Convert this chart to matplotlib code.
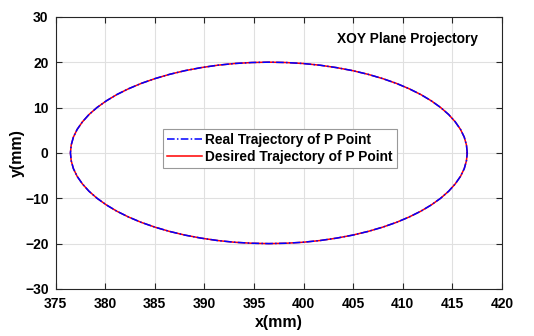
import matplotlib
matplotlib.use("Agg")
import matplotlib.pyplot as plt

x_desired = [416.5, 416.42, 416.20, 415.82, 415.29, 414.63, 413.82, 412.88, 411.82, 410.64,
             409.36, 407.97, 406.5, 404.95, 403.34, 401.68, 399.97, 398.24, 396.5,
             394.76, 393.03, 391.32, 389.66, 388.05, 386.5, 385.03, 383.64, 382.36,
             381.18, 380.12, 379.18, 378.37, 377.71, 377.18, 376.80, 376.58, 376.5,
             376.58, 376.80, 377.18, 377.71, 378.37, 379.18, 380.12, 381.18, 382.36,
             383.64, 385.03, 386.5, 388.05, 389.66, 391.32, 393.03, 394.76, 396.5,
             398.24, 399.97, 401.68, 403.34, 404.95, 406.5, 407.97, 409.36, 410.64,
             411.82, 412.88, 413.82, 414.63, 415.29, 415.82, 416.20, 416.42, 416.5]
y_desired = [0.0, 1.74, 3.47, 5.18, 6.84, 8.45, 10.0, 11.47, 12.86, 14.14,
             15.32, 16.38, 17.32, 18.13, 18.79, 19.32, 19.70, 19.92, 20.0,
             19.92, 19.70, 19.32, 18.79, 18.13, 17.32, 16.38, 15.32, 14.14,
             12.86, 11.47, 10.0, 8.45, 6.84, 5.18, 3.47, 1.74, 0.0,
             -1.74, -3.47, -5.18, -6.84, -8.45, -10.0, -11.47, -12.86, -14.14,
             -15.32, -16.38, -17.32, -18.13, -18.79, -19.32, -19.70, -19.92, -20.0,
             -19.92, -19.70, -19.32, -18.79, -18.13, -17.32, -16.38, -15.32, -14.14,
             -12.86, -11.47, -10.0, -8.45, -6.84, -5.18, -3.47, -1.74, 0.0]

# real (blue) trajectory lies on top of the desired one at this scale
x_real = list(x_desired)
y_real = list(y_desired)

x_ticks = [375, 380, 385, 390, 395, 400, 405, 410, 415, 420]
y_ticks = [-30, -20, -10, 0, 10, 20, 30]

plt.rcParams['font.family'] = ['Liberation Sans', 'DejaVu Sans']
plt.rcParams['font.weight'] = 'bold'

fig = plt.figure(figsize=(5.34, 3.36), dpi=100)
ax = fig.add_axes([0.104, 0.140, 0.836, 0.810])

l1, = ax.plot(x_real, y_real, color='blue', lw=1.1, ls=(0, (5, 1.5, 1, 1.5)),
              label='Real Trajectory of P Point', zorder=4)
l2, = ax.plot(x_desired, y_desired, color='red', lw=1.1,
              label='Desired Trajectory of P Point', zorder=3)

ax.set_xlim(375, 420)
ax.set_ylim(-30, 30)
ax.set_xticks(x_ticks)
ax.set_yticks(y_ticks)
ax.grid(True, color='#e0e0e0', lw=0.8)
ax.set_axisbelow(True)
ax.tick_params(direction='in', top=True, right=True, length=4, width=0.8,
               labelsize=10, colors='#262626', labelcolor='black')
ax.tick_params(axis='x', pad=6)
ax.tick_params(axis='y', pad=5)
for s in ax.spines.values():
    s.set_color('#262626')
    s.set_linewidth(0.8)
for lab in ax.get_xticklabels() + ax.get_yticklabels():
    lab.set_fontweight('bold')

ax.set_xlabel('x(mm)', fontsize=11.5, fontweight='bold', labelpad=3)
ax.set_ylabel('y(mm)', fontsize=11.5, fontweight='bold', labelpad=0)

ax.text(403.4, 25.1, 'XOY Plane Projectory', fontsize=9.9, fontweight='bold',
        ha='left', va='center')

leg = ax.legend(handles=[l1, l2], loc='center', bbox_to_anchor=(0.503, 0.516),
                fontsize=9.9, fancybox=False, edgecolor='#999999', framealpha=1,
                handlelength=2.5, handletextpad=0.25, borderpad=0.3,
                labelspacing=0.25, borderaxespad=0)
leg.get_frame().set_linewidth(0.8)
for t in leg.get_texts():
    t.set_fontweight('bold')

fig.savefig('out.png', dpi=100)
